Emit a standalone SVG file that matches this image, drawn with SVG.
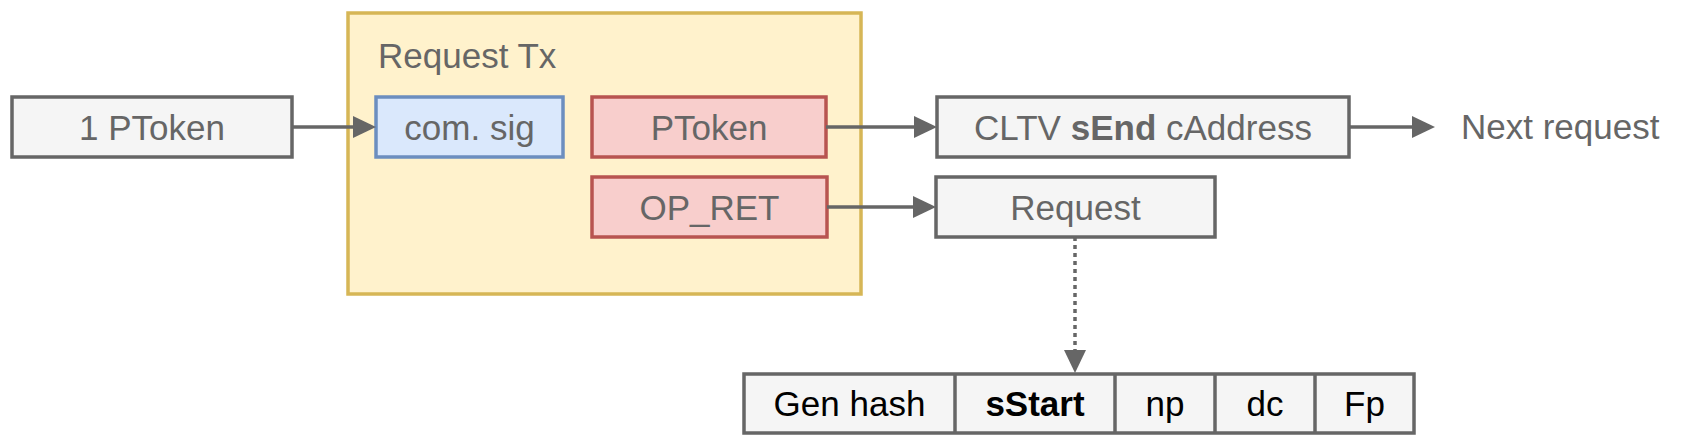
<svg xmlns="http://www.w3.org/2000/svg" width="1694" height="446" viewBox="0 0 1694 446">
<style>
  .t { font-family: "Liberation Sans", Arial, Helvetica, sans-serif; font-size: 35px; fill: #666666; text-anchor: middle; }
  .tb { font-family: "Liberation Sans", Arial, Helvetica, sans-serif; font-size: 35px; fill: #000000; text-anchor: middle; }
  .gray { fill: #f5f5f5; stroke: #666666; stroke-width: 3.5; }
  .red { fill: #f8cecc; stroke: #b85450; stroke-width: 3.5; }
  .blue { fill: #dae8fc; stroke: #6c8ebf; stroke-width: 3.5; }
  .yellow { fill: #fff2cc; stroke: #d6b656; stroke-width: 3.5; }
  .edge { stroke: #666666; stroke-width: 3.5; fill: none; }
  .dot { stroke-dasharray: 4 4; }
</style>
<defs>
  <marker id="arr" markerUnits="userSpaceOnUse" markerWidth="26" markerHeight="24" refX="0" refY="11" orient="auto">
    <path d="M0,0 L23,11 L0,22 Z" fill="#666666"/>
  </marker>
</defs>
<rect width="1694" height="446" fill="#ffffff"/>

<g id="request-tx">
  <rect class="yellow" x="348" y="13" width="513" height="281"/>
  <text class="t" x="378" y="68" style="text-anchor:start">Request Tx</text>
</g>

<g id="one-ptoken">
  <rect class="gray" x="12" y="97" width="280" height="60"/>
  <text class="t" x="152" y="139.5">1 PToken</text>
</g>

<g id="com-sig">
  <rect class="blue" x="376" y="97" width="187" height="60"/>
  <text class="t" x="469.5" y="139.5">com. sig</text>
</g>

<g id="ptoken">
  <rect class="red" x="592" y="97" width="234" height="60"/>
  <text class="t" x="709" y="139.5">PToken</text>
</g>

<g id="op-ret">
  <rect class="red" x="592" y="177" width="235" height="60"/>
  <text class="t" x="709.5" y="219.5">OP_RET</text>
</g>

<g id="cltv">
  <rect class="gray" x="937" y="97" width="412" height="60"/>
  <text class="t" x="1143" y="139.5">CLTV <tspan font-weight="bold">sEnd</tspan> cAddress</text>
</g>

<g id="request">
  <rect class="gray" x="936" y="177" width="279" height="60"/>
  <text class="t" x="1075.5" y="219.5">Request</text>
</g>

<g id="next-request">
  <text class="t" x="1461" y="139" style="text-anchor:start">Next request</text>
</g>

<g id="fields">
  <rect class="gray" x="744" y="374" width="670" height="59"/>
  <line class="edge" x1="955" y1="374" x2="955" y2="433"/>
  <line class="edge" x1="1115" y1="374" x2="1115" y2="433"/>
  <line class="edge" x1="1215" y1="374" x2="1215" y2="433"/>
  <line class="edge" x1="1315" y1="374" x2="1315" y2="433"/>
  <text class="tb" x="849.5" y="416">Gen hash</text>
  <text class="tb" x="1035" y="416" font-weight="bold">sStart</text>
  <text class="tb" x="1165" y="416">np</text>
  <text class="tb" x="1265" y="416">dc</text>
  <text class="tb" x="1364.5" y="416">Fp</text>
</g>

<g id="connectors">
  <line class="edge" x1="292" y1="127" x2="353" y2="127" marker-end="url(#arr)"/>
  <line class="edge" x1="826" y1="127" x2="914" y2="127" marker-end="url(#arr)"/>
  <line class="edge" x1="827" y1="207" x2="913" y2="207" marker-end="url(#arr)"/>
  <line class="edge" x1="1349" y1="127" x2="1412" y2="127" marker-end="url(#arr)"/>
  <line class="edge dot" x1="1075" y1="237" x2="1075" y2="350" marker-end="url(#arr)"/>
</g>
</svg>
